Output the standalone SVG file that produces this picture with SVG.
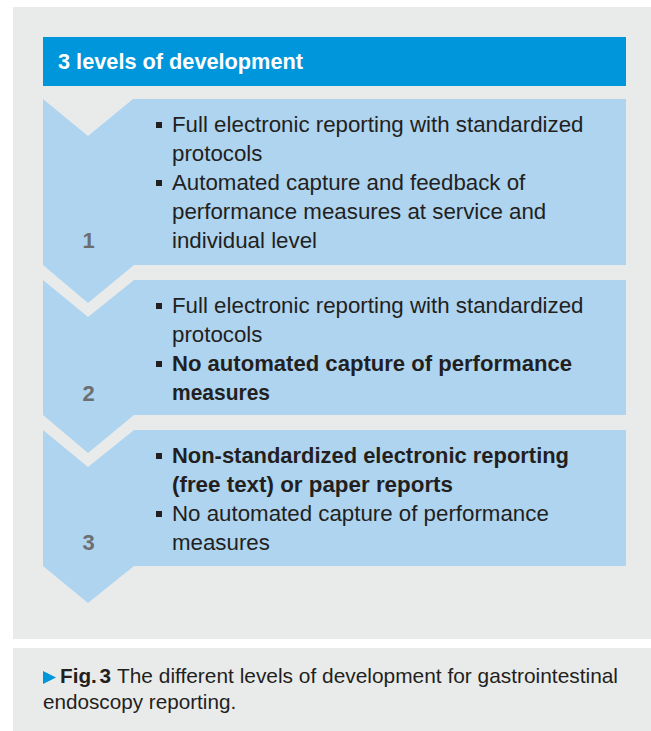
<svg xmlns="http://www.w3.org/2000/svg" width="651" height="731" viewBox="0 0 651 731">
<style>
.panel{fill:#e9ebeb}
.level{fill:#aed4f0}
.hdr{fill:#0096db}
.t{font-family:"Liberation Sans",Arial,sans-serif;font-size:22.3px;fill:#231f20}
.b{font-weight:bold}
.num{font-family:"Liberation Sans",Arial,sans-serif;font-size:22px;font-weight:bold;fill:#6d6e70;text-anchor:middle}
.cap{font-family:"Liberation Sans",Arial,sans-serif;font-size:20.7px;fill:#231f20}
.bul{fill:#231f20}
</style>
<rect width="651" height="731" fill="#ffffff"/>
<rect class="panel" x="13" y="7" width="638" height="632"/>
<rect class="panel" x="13" y="648" width="638" height="83"/>

<g id="header">
<rect class="hdr" x="43" y="37" width="583" height="49"/>
<text x="58" y="69" font-family="'Liberation Sans',Arial,sans-serif" font-size="22" font-weight="bold" fill="#ffffff" textLength="245" lengthAdjust="spacingAndGlyphs">3 levels of development</text>
</g>

<g id="level1">
<polygon class="level" points="43,99 88,136 133,99 626,99 626,265 134,265 88,303 43,265"/>
<rect class="bul" x="156" y="122" width="6" height="6"/>
<text class="t" x="172" y="132">Full electronic reporting with standardized</text>
<text class="t" x="172" y="161">protocols</text>
<rect class="bul" x="156" y="180" width="6" height="6"/>
<text class="t" x="172" y="190">Automated capture and feedback of</text>
<text class="t" x="172" y="219">performance measures at service and</text>
<text class="t" x="172" y="248">individual level</text>
<text class="num" x="88.5" y="248">1</text>
</g>

<g id="level2">
<polygon class="level" points="43,280 88,317 134,280 626,280 626,415 134,415 88,453 43,415"/>
<rect class="bul" x="156" y="303" width="6" height="6"/>
<text class="t" x="172" y="313">Full electronic reporting with standardized</text>
<text class="t" x="172" y="342">protocols</text>
<rect class="bul" x="156" y="361" width="6" height="6"/>
<text class="t b" x="172" y="371" textLength="400" lengthAdjust="spacingAndGlyphs">No automated capture of performance</text>
<text class="t b" x="172" y="400" textLength="98" lengthAdjust="spacingAndGlyphs">measures</text>
<text class="num" x="88.5" y="401">2</text>
</g>

<g id="level3">
<polygon class="level" points="43,430 88,467 134,430 626,430 626,566 134,566 88,603 43,566"/>
<rect class="bul" x="156" y="453" width="6" height="6"/>
<text class="t b" x="172" y="463" textLength="397" lengthAdjust="spacingAndGlyphs">Non-standardized electronic reporting</text>
<text class="t b" x="172" y="492" textLength="281" lengthAdjust="spacingAndGlyphs">(free text) or paper reports</text>
<rect class="bul" x="156" y="511" width="6" height="6"/>
<text class="t" x="172" y="521">No automated capture of performance</text>
<text class="t" x="172" y="550">measures</text>
<text class="num" x="88.5" y="550">3</text>
</g>

<g id="connectors"/>

<g id="caption">
<polygon points="43,671 43,684 56,677.5" fill="#0096db"/>
<text class="cap" x="60" y="683" font-weight="bold">Fig.</text>
<text class="cap" x="99.5" y="683" font-weight="bold">3</text>
<text class="cap" x="117" y="683" textLength="501" lengthAdjust="spacingAndGlyphs">The different levels of development for gastrointestinal</text>
<text class="cap" x="43" y="709">endoscopy reporting.</text>
</g>
</svg>
